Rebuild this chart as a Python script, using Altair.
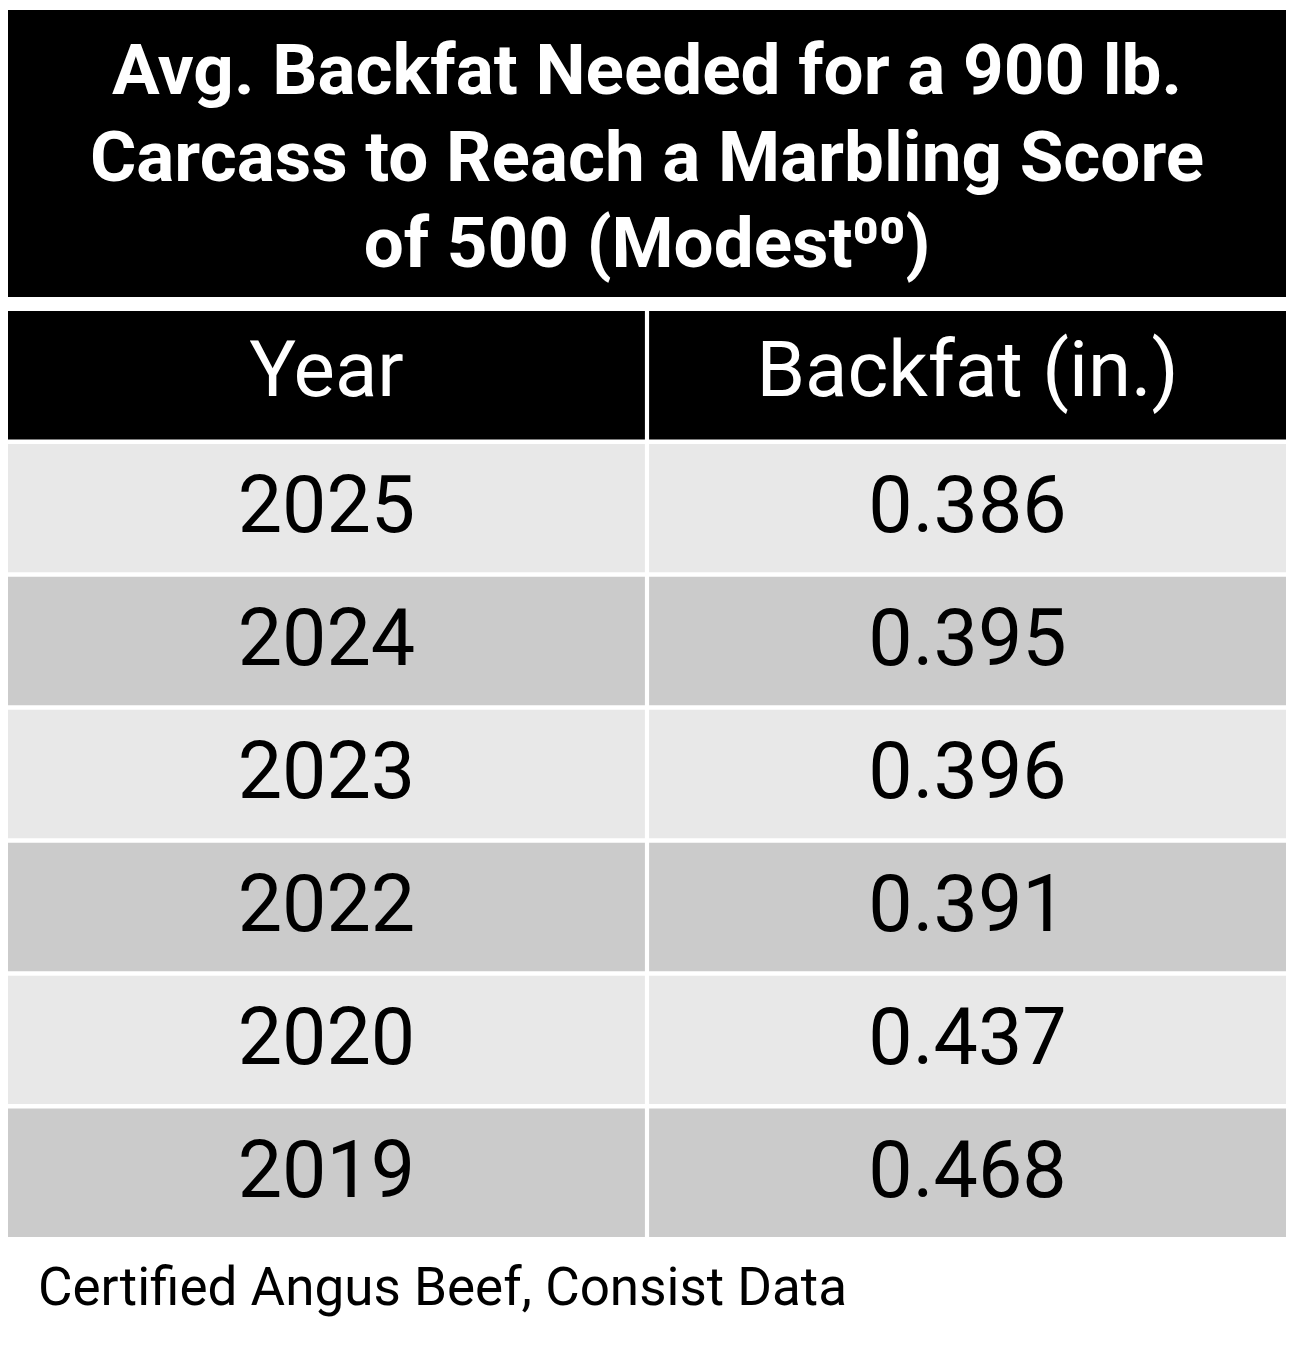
import altair as alt
import pandas as pd

title_lines = ["Avg. Backfat Needed for a 900 lb.",
               "Carcass to Reach a Marbling Score",
               "of 500 (Modest\u2070\u2070)"]
headers = ["Year", "Backfat (in.)"]
years = ["2025", "2024", "2023", "2022", "2020", "2019"]
backfat = ["0.386", "0.395", "0.396", "0.391", "0.437", "0.468"]
source = "Certified Angus Beef, Consist Data"

FONT = "Roboto"
W = 1278

# ---- table data ----
row_keys = ["header"] + years
records = []
for c, h in enumerate(headers):
    records.append({"row": "header", "col": h, "label": h, "kind": "header"})
for i, (y, b) in enumerate(zip(years, backfat)):
    kind = "light" if i % 2 == 0 else "dark"
    records.append({"row": y, "col": headers[0], "label": y, "kind": kind})
    records.append({"row": y, "col": headers[1], "label": b, "kind": kind})
table_df = pd.DataFrame(records)

xs = alt.X("col:N", scale=alt.Scale(domain=headers, paddingInner=0.0065, paddingOuter=0), axis=None)
ys = alt.Y("row:N", scale=alt.Scale(domain=row_keys, paddingInner=0.034, paddingOuter=0), axis=None)

cells = alt.Chart(table_df).mark_rect().encode(
    x=xs, y=ys,
    color=alt.Color("kind:N", scale=alt.Scale(domain=["header", "light", "dark"],
                                              range=["#000000", "#e8e8e8", "#cbcbcb"]), legend=None),
)
head_text = alt.Chart(table_df).transform_filter(alt.datum.kind == "header").mark_text(
    font=FONT, fontSize=78, color="#ffffff", baseline="middle", align="center", dy=-2
).encode(x=xs, y=ys, text="label:N")
body_text = alt.Chart(table_df).transform_filter(alt.datum.kind != "header").mark_text(
    font=FONT, fontSize=79, color="#000000", baseline="middle", align="center"
).encode(x=xs, y=ys, text="label:N")

table = alt.layer(cells, head_text, body_text).properties(width=W, height=926)

# ---- title panel ----
box_df = pd.DataFrame({"box": ["title"]})
title_df = pd.DataFrame({"line": list(range(len(title_lines))), "text": title_lines})

box = alt.Chart(box_df).mark_rect(color="#000000").encode(
    x=alt.X("box:N", axis=None, scale=alt.Scale(paddingInner=0, paddingOuter=0)),
    y=alt.Y("box:N", axis=None, scale=alt.Scale(paddingInner=0, paddingOuter=0)),
)
ttext = alt.Chart(title_df).mark_text(
    font=FONT, fontSize=71, fontWeight="bold", color="#ffffff", baseline="middle", align="center", dy=6
).encode(
    y=alt.Y("line:O", axis=None, scale=alt.Scale(type="point", padding=0.659)),
    text="text:N",
)
title_panel = alt.layer(box, ttext).resolve_scale(x="independent", y="independent").properties(width=W, height=287)

chart = alt.vconcat(title_panel, table, spacing=14).properties(
    title=alt.TitleParams(source, orient="bottom", anchor="start", font=FONT, fontSize=53,
                          fontWeight="normal", color="#000000", offset=26, dx=30),
    padding={"left": 0, "top": 2, "right": 0, "bottom": 10},
).configure_view(stroke=None).configure_concat(spacing=14)

chart.save("out.html", embed_options={"renderer": "svg", "actions": False})
